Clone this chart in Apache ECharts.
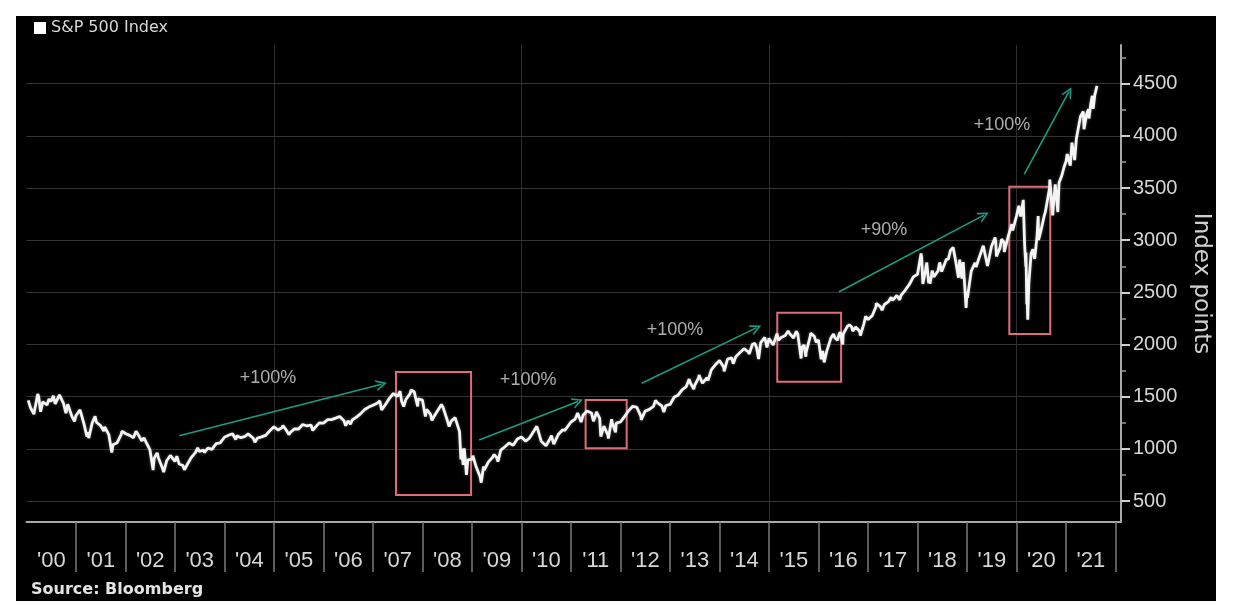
<!DOCTYPE html>
<html><head><meta charset="utf-8">
<script src="https://cdn.jsdelivr.net/npm/echarts@6/dist/echarts.min.js"></script>
<style>
html,body{margin:0;padding:0;background:#fff;}
#bg{position:absolute;left:16px;top:16px;width:1200px;height:585px;background:#000;}
#chart{position:absolute;left:0;top:0;width:1236px;height:612px;}
</style>
</head><body>
<div id="bg"></div><div id="chart"></div>
<script>
const seriesName = 'S&P 500 Index';
const sourceText = 'Source: Bloomberg';
const yAxisName = 'Index points';

// Month-end closes (Jan..Dec)
const close2000 = [1394, 1366, 1499, 1452, 1421, 1455, 1431, 1518, 1437, 1429, 1315, 1320];
const close2001 = [1366, 1240, 1160, 1250, 1256, 1224, 1211, 1134, 1041, 1060, 1140, 1148];
const close2002 = [1130, 1107, 1147, 1077, 1067, 990, 912, 916, 815, 886, 936, 880];
const close2003 = [856, 841, 848, 917, 964, 975, 990, 1008, 996, 1051, 1058, 1112];
const close2004 = [1131, 1145, 1126, 1107, 1121, 1141, 1102, 1104, 1115, 1130, 1174, 1212];
const close2005 = [1181, 1204, 1181, 1157, 1192, 1191, 1234, 1220, 1229, 1207, 1250, 1248];
const close2006 = [1280, 1281, 1295, 1311, 1270, 1270, 1277, 1304, 1336, 1378, 1401, 1418];
const close2007 = [1438, 1407, 1421, 1482, 1531, 1503, 1455, 1474, 1527, 1549, 1481, 1468];
const close2008 = [1379, 1331, 1323, 1386, 1400, 1280, 1267, 1283, 1166, 969, 896, 903];
const close2009 = [826, 735, 798, 873, 919, 919, 988, 1021, 1057, 1036, 1096, 1115];
const close2010 = [1074, 1105, 1169, 1187, 1089, 1031, 1102, 1049, 1141, 1183, 1181, 1258];
const close2011 = [1286, 1327, 1326, 1364, 1345, 1321, 1292, 1219, 1131, 1253, 1247, 1258];
const close2012 = [1312, 1366, 1409, 1398, 1310, 1362, 1379, 1407, 1441, 1412, 1416, 1426];
const close2013 = [1498, 1515, 1569, 1598, 1631, 1606, 1686, 1633, 1682, 1757, 1806, 1848];
const close2014 = [1783, 1860, 1872, 1884, 1924, 1960, 1931, 2003, 1972, 2018, 2068, 2059];
const close2015 = [1995, 2105, 2068, 2086, 2107, 2063, 2104, 1972, 1920, 2079, 2080, 2044];
const close2016 = [1940, 1932, 2060, 2065, 2097, 2099, 2174, 2171, 2168, 2126, 2199, 2239];
const close2017 = [2279, 2364, 2363, 2384, 2412, 2423, 2470, 2472, 2519, 2575, 2648, 2674];
const close2018 = [2824, 2714, 2641, 2648, 2705, 2718, 2816, 2902, 2914, 2712, 2760, 2507];
const close2019 = [2704, 2784, 2834, 2946, 2752, 2942, 2980, 2926, 2977, 3038, 3141, 3231];
const close2020 = [3226, 2954, 2585, 2912, 3044, 3100, 3271, 3500, 3363, 3270, 3622, 3756];
const close2021 = [3714, 3811, 3973, 4181, 4204, 4298, 4395];

// Intra-month highs / lows visible as spikes on the chart
const intraMonthPoints = [
  ['2000-01-14', 1465], ['2000-02-25', 1333], ['2000-03-24', 1527], ['2000-04-14', 1356], ['2000-06-15', 1478],
  ['2000-07-17', 1510], ['2000-09-01', 1521], ['2000-10-18', 1342], ['2000-11-06', 1432], ['2000-12-20', 1264],
  ['2001-01-30', 1374], ['2001-03-22', 1118], ['2001-04-04', 1103], ['2001-05-21', 1313], ['2001-07-24', 1171],
  ['2001-09-21', 966], ['2001-12-05', 1170],
  ['2002-03-19', 1170], ['2002-05-17', 1106], ['2002-07-23', 797], ['2002-08-22', 962], ['2002-10-09', 777], ['2002-11-27', 938],
  ['2003-01-14', 931], ['2003-03-11', 800], ['2003-06-17', 1011], ['2003-08-05', 965], ['2004-03-24', 1091], ['2004-06-23', 1144], ['2004-08-12', 1064],
  ['2005-03-07', 1225], ['2005-04-20', 1137], ['2005-08-02', 1245], ['2005-10-13', 1177],
  ['2006-05-05', 1325], ['2006-06-13', 1223], ['2006-07-18', 1236],
  ['2007-02-20', 1460], ['2007-03-05', 1374], ['2007-07-19', 1553], ['2007-08-15', 1406], ['2007-10-09', 1565], ['2007-11-26', 1407],
  ['2008-01-22', 1310], ['2008-03-10', 1273], ['2008-05-19', 1426], ['2008-07-15', 1214], ['2008-08-28', 1300],
  ['2008-10-10', 899], ['2008-10-13', 1003], ['2008-10-27', 848], ['2008-11-04', 1005], ['2008-11-20', 752], ['2008-12-08', 909],
  ['2009-01-06', 935], ['2009-03-09', 677], ['2009-03-26', 833], ['2009-06-12', 946], ['2009-07-10', 879],
  ['2010-02-08', 1056], ['2010-04-23', 1217], ['2010-05-25', 1074], ['2010-07-02', 1022], ['2010-08-09', 1128], ['2010-08-26', 1047], ['2010-11-16', 1178],
  ['2011-02-18', 1343], ['2011-03-16', 1257], ['2011-04-29', 1364], ['2011-06-15', 1265], ['2011-07-07', 1354],
  ['2011-08-08', 1119], ['2011-08-31', 1219], ['2011-10-03', 1099], ['2011-10-27', 1285], ['2011-11-25', 1159],
  ['2012-04-02', 1419], ['2012-06-01', 1278], ['2012-09-14', 1466], ['2012-11-15', 1353],
  ['2013-05-21', 1669], ['2013-06-24', 1573], ['2013-08-02', 1709], ['2013-08-27', 1630], ['2013-10-08', 1656],
  ['2014-02-03', 1742], ['2014-04-11', 1816], ['2014-08-07', 1910], ['2014-09-18', 2011], ['2014-10-15', 1862], ['2014-12-05', 2075], ['2014-12-16', 1973],
  ['2015-03-11', 2040], ['2015-05-21', 2131], ['2015-07-08', 2047], ['2015-07-20', 2128], ['2015-08-25', 1867], ['2015-09-16', 1996],
  ['2015-09-29', 1884], ['2015-11-03', 2109], ['2015-12-14', 2021],
  ['2016-01-20', 1859], ['2016-02-11', 1829], ['2016-04-20', 2102], ['2016-05-19', 2040], ['2016-06-08', 2119], ['2016-06-27', 2001],
  ['2016-08-15', 2190], ['2016-09-09', 2128], ['2016-11-04', 2085], ['2016-12-13', 2271],
  ['2017-03-01', 2396], ['2017-04-13', 2329], ['2017-06-19', 2453], ['2017-08-08', 2480], ['2017-08-21', 2428], ['2017-11-08', 2594],
  ['2018-01-26', 2873], ['2018-02-08', 2581], ['2018-03-09', 2786], ['2018-03-23', 2588], ['2018-04-02', 2582], ['2018-04-18', 2708],
  ['2018-05-03', 2630], ['2018-06-12', 2787], ['2018-06-27', 2699], ['2018-08-15', 2818], ['2018-09-20', 2931],
  ['2018-10-10', 2786], ['2018-10-29', 2641], ['2018-11-07', 2814], ['2018-11-23', 2633], ['2018-12-03', 2790], ['2018-12-24', 2351],
  ['2019-01-03', 2448], ['2019-03-08', 2743], ['2019-05-03', 2946], ['2019-06-03', 2744], ['2019-07-26', 3026], ['2019-08-05', 2845],
  ['2019-09-12', 3010], ['2019-10-02', 2888], ['2019-11-27', 3154], ['2019-12-03', 3093],
  ['2020-01-17', 3330], ['2020-01-31', 3226], ['2020-02-19', 3386], ['2020-03-09', 2747], ['2020-03-10', 2882], ['2020-03-16', 2386],
  ['2020-03-17', 2529], ['2020-03-23', 2237], ['2020-04-17', 2875], ['2020-05-13', 2820], ['2020-06-08', 3232], ['2020-06-11', 3002],
  ['2020-07-23', 3236], ['2020-09-02', 3580], ['2020-09-23', 3237], ['2020-10-12', 3534], ['2020-11-09', 3550], ['2020-12-16', 3701],
  ['2021-01-08', 3825], ['2021-02-12', 3934], ['2021-03-04', 3768], ['2021-03-17', 3975], ['2021-04-16', 4185],
  ['2021-05-07', 4233], ['2021-05-12', 4063], ['2021-06-14', 4255], ['2021-06-18', 4166],
  ['2021-07-12', 4384], ['2021-07-19', 4258], ['2021-08-16', 4479]
];

const yTickValues = [500, 1000, 1500, 2000, 2500, 3000, 3500, 4000, 4500];
const yMinorTickValues = [750, 1250, 1750, 2250, 2750, 3250, 3750, 4250, 4750];
const yearLabels = ["'00","'01","'02","'03","'04","'05","'06","'07","'08","'09","'10","'11","'12","'13","'14","'15","'16","'17","'18","'19","'20","'21"];
const separatorYears = [2001,2002,2003,2004,2005,2006,2007,2008,2009,2010,2011,2012,2013,2014,2015,2016,2017,2018,2019,2020,2021,2022];
const gridYears = [2005, 2010, 2015, 2020];

// Highlight boxes [start, top] -> [end, bottom]
const boxes = [
  [['2007-06-19', 1737], ['2008-12-24', 559]],
  [['2011-04-18', 1469], ['2012-02-15', 1006]],
  [['2015-03-02', 2305], ['2016-06-15', 1644]],
  [['2019-11-08', 3512], ['2020-09-05', 2101]]
];
// Trend arrows [from] -> [to]
const arrows = [
  [['2003-02-01', 1127], ['2007-03-05', 1620]],
  [['2009-02-21', 1086], ['2011-02-20', 1455]],
  [['2012-06-05', 1629], ['2014-09-28', 2160]],
  [['2016-05-31', 2506], ['2019-05-05', 3240]],
  [['2020-02-27', 3634], ['2021-01-20', 4420]]
];
const arrowLabels = [
  ['2004-11-17', 1680, '+100%'],
  ['2010-02-18', 1660, '+100%'],
  ['2013-02-06', 2139, '+100%'],
  ['2017-04-28', 3097, '+90%'],
  ['2019-09-15', 4103, '+100%']
];

// --- build ---
const toTs = s => { const p = s.split('-').map(Number); return +new Date(p[0], p[1] - 1, p[2]); };
const yearTs = y => +new Date(y, 0, 1);
const monthly = [close2000, close2001, close2002, close2003, close2004, close2005, close2006, close2007, close2008, close2009, close2010,
  close2011, close2012, close2013, close2014, close2015, close2016, close2017, close2018, close2019, close2020, close2021];
let points = [];
monthly.forEach((arr, yi) => {
  const y = 2000 + yi;
  arr.forEach((v, m) => points.push([+new Date(y, m + 1, 0), v]));
});
points = points.concat(intraMonthPoints.map(p => [toTs(p[0]), p[1]]));
points.sort((a, b) => a[0] - b[0]);

const xMin = toTs('2000-01-01'), xMax = toTs('2022-02-09');
const chart = echarts.init(document.getElementById('chart'));
const chevron = 'path://M0,10 L5,0 L10,10 L8.4,10 L5,3.2 L1.6,10 Z';
const baseX = { type: 'value', min: xMin, max: xMax, position: 'bottom', scale: true };

chart.setOption({
  animation: false,
  backgroundColor: 'transparent',
  title: {
    text: sourceText, left: 31, top: 582, padding: 0,
    textStyle: { fontFamily: 'DejaVu Sans', fontWeight: 'bold', fontSize: 16, color: '#e4e4e4' }
  },
  legend: {
    data: [seriesName], left: 34, top: 20, padding: 0, icon: 'rect',
    itemWidth: 12, itemHeight: 12,
    textStyle: { fontFamily: 'DejaVu Sans', fontSize: 16, color: '#d8d8d8' }
  },
  grid: { left: 26.5, right: 115, top: 45, bottom: 90, containLabel: false },
  xAxis: [
    Object.assign({}, baseX, {
      axisLine: { show: true, onZero: false, lineStyle: { color: '#a8a8a8', width: 2 } },
      axisTick: { show: true, length: 50, lineStyle: { color: '#7a7a7a', width: 1.5 },
        customValues: separatorYears.map(yearTs) },
      axisLabel: { show: false },
      splitLine: { show: false }
    }),
    Object.assign({}, baseX, {
      axisLine: { show: false, onZero: false }, axisTick: { show: false },
      axisLabel: {
        show: true, margin: 28, color: '#d6d6d6', fontFamily: 'Liberation Sans', fontSize: 22,
        customValues: yearLabels.map((l, i) => +new Date(2000 + i, 6, 2)),
        formatter: v => yearLabels[new Date(v).getFullYear() - 2000]
      },
      splitLine: { show: false }
    }),
    Object.assign({}, baseX, {
      axisLine: { show: false, onZero: false },
      axisTick: { show: false, customValues: gridYears.map(yearTs) },
      axisLabel: { show: false, customValues: gridYears.map(yearTs) },
      splitLine: { show: true, lineStyle: { color: '#2e2e2e', width: 1 } }
    })
  ],
  yAxis: [
    {
      type: 'value', position: 'right', min: 300, max: 4870,
      name: yAxisName, nameLocation: 'middle', nameRotate: -90, nameGap: 68,
      nameTextStyle: { fontFamily: 'DejaVu Sans', fontSize: 23, color: '#cfcfcf' },
      axisLine: { show: true, lineStyle: { color: '#a8a8a8', width: 2 } },
      axisTick: { show: true, inside: false, length: 9, lineStyle: { color: '#cfcfcf', width: 2 }, customValues: yTickValues },
      axisLabel: { show: true, margin: 12, color: '#d6d6d6', fontFamily: 'Liberation Sans', fontSize: 20,
        customValues: yTickValues, formatter: v => String(v) },
      splitLine: { show: true, lineStyle: { color: '#333', width: 1 } }
    },
    {
      type: 'value', position: 'right', min: 300, max: 4870,
      axisLine: { show: false },
      axisTick: { show: true, length: 5, lineStyle: { color: '#9a9a9a', width: 1.5 }, customValues: yMinorTickValues },
      axisLabel: { show: false, customValues: yMinorTickValues },
      splitLine: { show: false }
    }
  ],
  series: [
    {
      name: seriesName, type: 'line', xAxisIndex: 0, yAxisIndex: 0,
      data: points, showSymbol: false, symbol: 'none',
      itemStyle: { color: '#ffffff' },
      lineStyle: { color: '#f4f4f4', width: 2.8, shadowColor: 'rgba(255,255,255,0.35)', shadowBlur: 3 },
      z: 5,
      markArea: {
        silent: true,
        itemStyle: { color: 'rgba(0,0,0,0)', borderColor: '#e06b7b', borderWidth: 2 },
        label: { show: false },
        data: boxes.map(b => [{ coord: [toTs(b[0][0]), b[0][1]] }, { coord: [toTs(b[1][0]), b[1][1]] }])
      },
      markLine: {
        silent: true,
        symbol: ['none', chevron], symbolSize: [11, 11],
        lineStyle: { color: '#1c9c84', width: 1.6, type: 'solid' },
        label: { show: false },
        data: arrows.map(a => [{ coord: [toTs(a[0][0]), a[0][1]] }, { coord: [toTs(a[1][0]), a[1][1]] }])
      }
    },
    {
      name: 'labels', type: 'scatter', xAxisIndex: 0, yAxisIndex: 0,
      symbolSize: 0, silent: true,
      data: arrowLabels.map(l => ({ name: l[2], value: [toTs(l[0]), l[1]] })),
      label: { show: true, position: 'inside', formatter: p => p.name,
        color: '#d8d8d8', fontFamily: 'Liberation Sans', fontSize: 18 }
    }
  ]
});
</script>
</body></html>
